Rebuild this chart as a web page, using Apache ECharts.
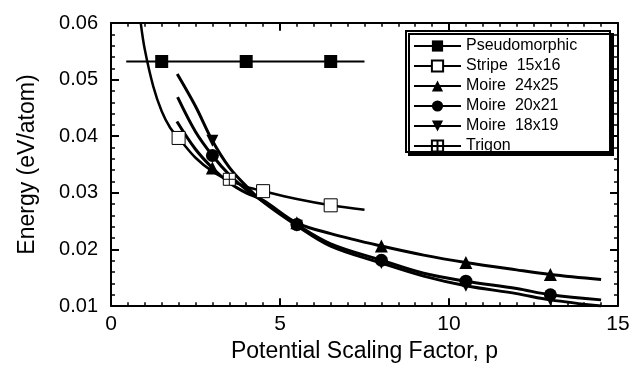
<!DOCTYPE html>
<html><head><meta charset="utf-8">
<script src="https://cdn.jsdelivr.net/npm/echarts@6/dist/echarts.min.js"></script>
<style>html,body{margin:0;padding:0;background:#fff}#c{width:642px;height:368px}</style>
</head><body><div id="c"></div>
<script>
// ---- data ----
const xTicks = [0, 5, 10, 15];
const yTicks = [0.01, 0.02, 0.03, 0.04, 0.05, 0.06];
const xMinorPerMajor = 10;
const yMinorPerMajor = 5;
const seriesNames = ['Pseudomorphic', 'Stripe  15x16', 'Moire  24x25', 'Moire  20x21', 'Moire  18x19', 'Trigon'];

// fitted curves (line only)
const pseudoCurve = [[0.45, 0.0532], [7.5, 0.0532]];
const stripeCurve = [[0.88, 0.06], [1.0, 0.0553], [1.25, 0.0488], [1.5, 0.0444], [1.75, 0.0415], [2.5, 0.0362], [3.0, 0.0338], [3.5, 0.0322], [4.0, 0.0311], [5.5, 0.0289], [7.5, 0.0270]];
const m2425Curve = [[1.95, 0.0426], [2.5, 0.0377], [3.5, 0.0318], [4.0, 0.0300], [4.5, 0.0287], [6.5, 0.0228], [9.25, 0.0190], [12.0, 0.0164], [14.5, 0.0147]];
const m2021Curve = [[1.97, 0.0469], [2.5, 0.0408], [3.5, 0.0332], [4.0, 0.0306], [4.5, 0.0285], [6.5, 0.0210], [9.25, 0.0158], [12.0, 0.0131], [14.5, 0.0111]];
const m1819Curve = [[1.96, 0.0510], [2.5, 0.0453], [3.5, 0.0345], [4.0, 0.0312], [4.5, 0.0284], [6.5, 0.0206], [9.25, 0.0153], [12.0, 0.0122], [14.5, 0.0100]];

// computed points (markers)
const pseudoPts = [[1.5, 0.0532], [4.0, 0.0532], [6.5, 0.0532]];
const stripePts = [[2.0, 0.0397], [4.5, 0.0303], [6.5, 0.0278]];
const m2425Pts = [[3.0, 0.0344], [5.5, 0.0247], [8.0, 0.0206], [10.5, 0.0177], [13.0, 0.0156]];
const m2021Pts = [[3.0, 0.0366], [5.5, 0.0244], [8.0, 0.0181], [10.5, 0.0144], [13.0, 0.0120]];
const m1819Pts = [[3.0, 0.0392], [5.5, 0.0242], [8.0, 0.0176], [10.5, 0.0136], [13.0, 0.0111]];
const trigonPts = [[3.5, 0.0324]];

// ---- build ----
function merge(curve, pts) {
  const a = curve.map(p => ({ value: p, symbol: 'none' }));
  const b = pts.map(p => ({ value: p }));
  return a.concat(b).sort((u, v) => u.value[0] - v.value[0]);
}
const FONT = 'Liberation Sans, Arial, Helvetica, sans-serif';
const downTri = 'path://M0,0L10,0L5,10Z';
const trigonSym = 'path://M0,0H10V10H0Z M5,0V10 M0,5H10';

function mk(name, data, symbol, fill, size, lw, smooth) {
  return {
    name, type: 'line', data, symbol, symbolSize: size, smooth: smooth,
    showAllSymbol: true,
    lineStyle: { color: '#000', width: lw },
    itemStyle: { color: fill, borderColor: '#000', borderWidth: fill === '#fff' ? 1 : 0 },
    emphasis: { disabled: true }, z: 3, animation: false
  };
}

const X0 = xTicks[0], X1 = xTicks[xTicks.length - 1], Y0 = yTicks[0], Y1 = yTicks[yTicks.length - 1];
const GRID = { left: 111, right: 24, top: 23, bottom: 52 };
const plotW = 642 - GRID.left - GRID.right, plotH = 368 - GRID.top - GRID.bottom;
const dxPx = (X1 - X0) / plotW, dyPx = (Y1 - Y0) / plotH;

// inward tick segments on all four sides, in axis units
const majorSegs = [], minorSegs = [];
function eachTick(major, n, fn) {
  for (let i = 0; i < major.length; i++) {
    fn(major[i], true);
    if (i < major.length - 1) {
      const step = (major[i + 1] - major[i]) / n;
      for (let k = 1; k < n; k++) fn(major[i] + k * step, false);
    }
  }
}
eachTick(xTicks, xMinorPerMajor, (v, major) => {
  const len = (major ? 8 : 4) * dyPx, arr = major ? majorSegs : minorSegs;
  arr.push({ coords: [[v, Y0], [v, Y0 + len]] });
  arr.push({ coords: [[v, Y1], [v, Y1 - len]] });
});
eachTick(yTicks, yMinorPerMajor, (v, major) => {
  const len = (major ? 8 : 4) * dxPx, arr = major ? majorSegs : minorSegs;
  arr.push({ coords: [[X0, v], [X0 + len, v]] });
  arr.push({ coords: [[X1, v], [X1 - len, v]] });
});
function tickSeries(data, w) {
  return {
    type: 'lines', coordinateSystem: 'cartesian2d', xAxisIndex: 0, yAxisIndex: 0,
    polyline: false, data, silent: true, z: 8, animation: false,
    effect: { show: false }, symbol: 'none',
    lineStyle: { color: '#000', width: w, opacity: 1, curveness: 0 }
  };
}

const baseAxis = {
  axisLine: { show: true, onZero: false, lineStyle: { color: '#000', width: 2 } },
  axisTick: { show: false },
  minorTick: { show: false },
  splitLine: { show: false }
};

const chart = echarts.init(document.getElementById('c'), null, { renderer: 'canvas' });
chart.setOption({
  animation: false,
  backgroundColor: '#fff',
  grid: GRID,
  xAxis: [
    Object.assign({
      type: 'value', min: X0, max: X1, interval: 5, position: 'bottom',
      name: 'Potential Scaling Factor, p', nameLocation: 'middle', nameGap: 27,
      nameTextStyle: { fontFamily: FONT, fontSize: 23, color: '#000' },
      axisLabel: { fontFamily: FONT, fontSize: 21, color: '#000', margin: 8 }
    }, baseAxis),
    Object.assign({ type: 'value', min: X0, max: X1, interval: 5, position: 'top', axisLabel: { show: false } }, baseAxis)
  ],
  yAxis: [
    Object.assign({
      type: 'value', min: Y0, max: Y1, interval: 0.01, position: 'left',
      name: 'Energy (eV/atom)', nameLocation: 'middle', nameGap: 72, nameRotate: 90,
      nameTextStyle: { fontFamily: FONT, fontSize: 23, color: '#000' },
      axisLabel: { fontFamily: FONT, fontSize: 20, color: '#000', margin: 13, formatter: v => v.toFixed(2) }
    }, baseAxis),
    Object.assign({ type: 'value', min: Y0, max: Y1, interval: 0.01, position: 'right', axisLabel: { show: false } }, baseAxis)
  ],
  graphic: [{
    type: 'rect', left: 405, top: 30, z: 10, silent: true,
    shape: { width: 204, height: 121 },
    style: { fill: '#fff', stroke: '#000', lineWidth: 2, shadowColor: '#000', shadowOffsetX: 3, shadowOffsetY: 3, shadowBlur: 0 }
  }],
  legend: {
    orient: 'vertical', left: 405, top: 30, padding: [8, 8, 8, 8], z: 20,
    itemWidth: 47, itemHeight: 14, itemGap: 4,
    textStyle: { fontFamily: FONT, fontSize: 16, color: '#000' },
    selectedMode: false,
    data: seriesNames
  },
  series: [
    tickSeries(majorSegs, 2),
    tickSeries(minorSegs, 1.5),
    mk(seriesNames[0], merge(pseudoCurve, pseudoPts), 'rect', '#000', 13, 2, false),
    mk(seriesNames[1], merge(stripeCurve, stripePts), 'rect', '#fff', 13, 2.5, 0.35),
    mk(seriesNames[2], merge(m2425Curve, m2425Pts), 'triangle', '#000', 13, 3, 0.35),
    mk(seriesNames[3], merge(m2021Curve, m2021Pts), 'circle', '#000', 13, 3, 0.35),
    mk(seriesNames[4], merge(m1819Curve, m1819Pts), downTri, '#000', 12, 3, 0.35),
    mk(seriesNames[5], trigonPts.map(p => ({ value: p })), trigonSym, '#fff', 12, 1.5, false)
  ]
});
</script></body></html>
